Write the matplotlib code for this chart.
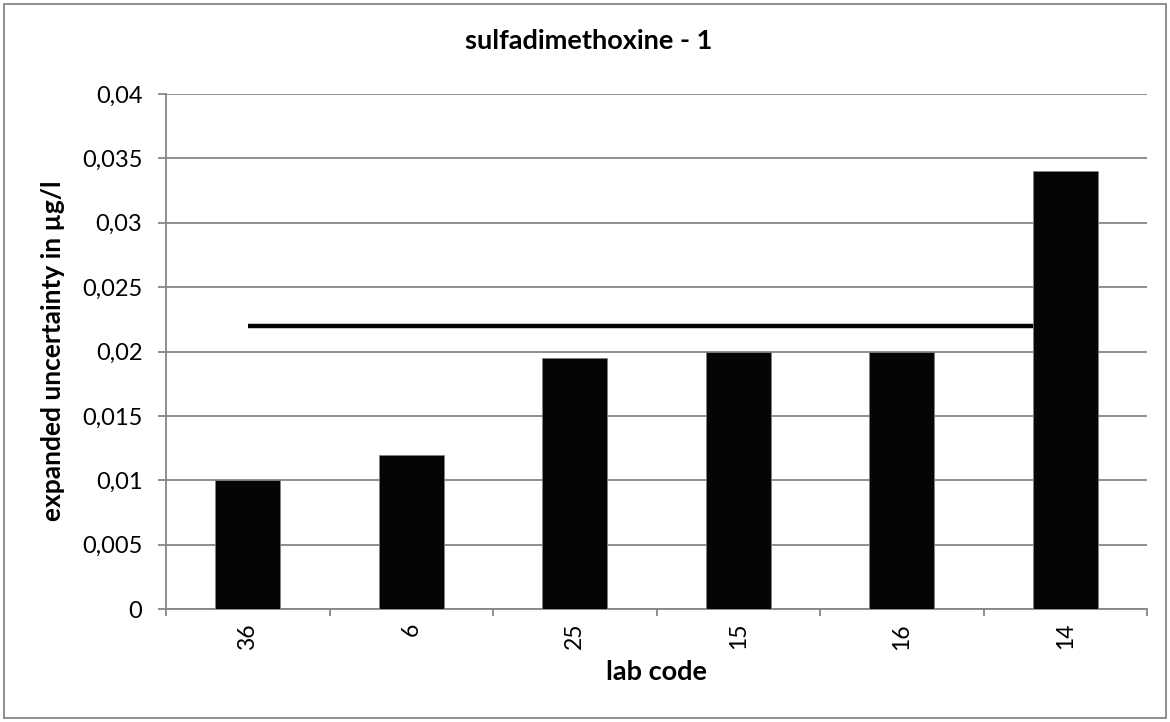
import matplotlib
matplotlib.use("Agg")
import matplotlib.pyplot as plt
from matplotlib.patches import Rectangle

labs = ["36", "6", "25", "15", "16", "14"]
uncertainty = [0.010, 0.012, 0.0195, 0.020, 0.020, 0.034]
reference_level = 0.022
yticks = [0, 0.005, 0.01, 0.015, 0.02, 0.025, 0.03, 0.035, 0.04]
ytick_labels = ["0", "0,005", "0,01", "0,015", "0,02", "0,025", "0,03", "0,035", "0,04"]

plt.rcParams['font.family'] = ['Lato', 'DejaVu Sans']
grid_c = "#868686"

fig = plt.figure(figsize=(11.7, 7.22), dpi=100)
ax = fig.add_axes([166/1170, 1-609/722, (1147-166)/1170, (609-94)/722])

x = list(range(len(labs)))
ax.bar(x, uncertainty, width=0.4, color="#050505", edgecolor="#808080", linewidth=0.6, zorder=3)
ax.plot([x[0], x[-1]], [reference_level]*2, color="#050505", linewidth=3.2, zorder=2.5, solid_capstyle="butt")

ax.set_xlim(-0.5, len(labs)-0.5)
ax.set_ylim(0, 0.04)
ax.set_yticks(yticks)
ax.set_yticklabels(ytick_labels, fontsize=17)
ax.set_xticks(x)
ax.set_xticklabels(labs, rotation=90, fontsize=16.5)
ax.set_xticks([i-0.5 for i in range(len(labs)+1)], minor=True)
ax.tick_params(axis='x', which='major', length=0, pad=10)
ax.tick_params(axis='x', which='minor', length=5, color=grid_c, width=1.3)
ax.tick_params(axis='y', length=6, color=grid_c, width=1.3, pad=11)
ax.yaxis.grid(True, color=grid_c, linewidth=1.3, zorder=0)
ax.set_axisbelow(True)
for s in ["top", "right"]:
    ax.spines[s].set_visible(False)
for s in ["left", "bottom"]:
    ax.spines[s].set_color(grid_c)
    ax.spines[s].set_linewidth(1.3)

fig.text(656/1170, 1-672/722, "lab code", fontsize=19.5, fontweight="bold", ha="center", va="center")
fig.text(53/1170, 1-351/722, "expanded uncertainty in µg/l", fontsize=19, fontweight="bold",
         ha="center", va="center", rotation=90)
fig.text(589/1170, 1-41/722, "sulfadimethoxine - 1", fontsize=19.5, fontweight="bold", ha="center", va="center")

fig.patches.append(Rectangle((4/1170, 4/722), 1162/1170, 714/722, transform=fig.transFigure,
                             fill=False, edgecolor=grid_c, linewidth=1.3))

fig.savefig("out.png", dpi=100)
